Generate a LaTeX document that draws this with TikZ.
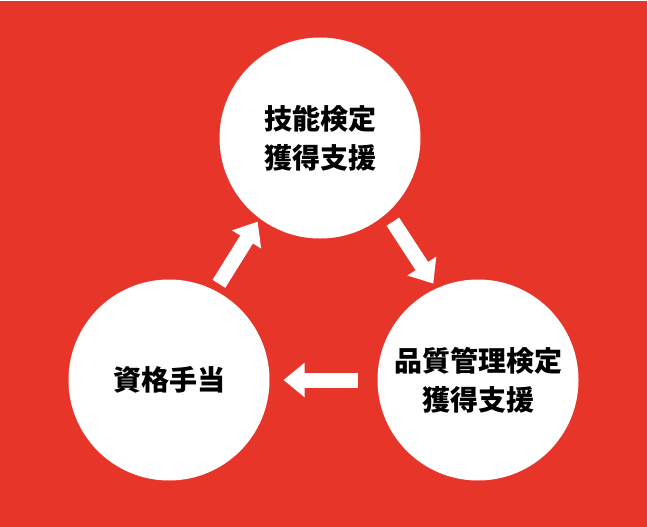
\documentclass[tikz,border=0pt]{standalone}
\usepackage{fontspec}
\usepackage{tikz}
\usetikzlibrary{arrows.meta}
\newfontfamily\jp{Noto Sans CJK JP}
\definecolor{bgred}{RGB}{232,53,42}

\begin{document}
\begin{tikzpicture}[x=1pt,y=-1pt,
  bubble/.style={circle,fill=white,minimum size=201pt,inner sep=0pt,outer sep=0pt,
    align=center,font=\jp\bfseries\fontsize{28}{39}\selectfont},
  flow/.style={draw=white,line width=15pt,-{Triangle[length=21pt,width=33pt]}}]
\fill[white] (0,0) rectangle (648,527);
\fill[bgred] (0,1.5) rectangle (646.5,527);

\node[bubble] (skill) at (320,138) {技能検定\\獲得支援};
\node[bubble] (quality) at (478,380) {品質管理検定\\獲得支援};
\node[bubble] (pay) at (169,380) {資格手当};

\draw[flow,transform canvas={xshift=-7pt,yshift=5pt},shorten <=7pt,shorten >=4pt] (pay) -- (skill);
\draw[flow,transform canvas={xshift=13pt,yshift=8pt},shorten <=9pt,shorten >=5pt] (skill) -- (quality);
\draw[flow,shorten <=20pt,shorten >=14pt] (quality) -- (pay);

\end{tikzpicture}
\end{document}
